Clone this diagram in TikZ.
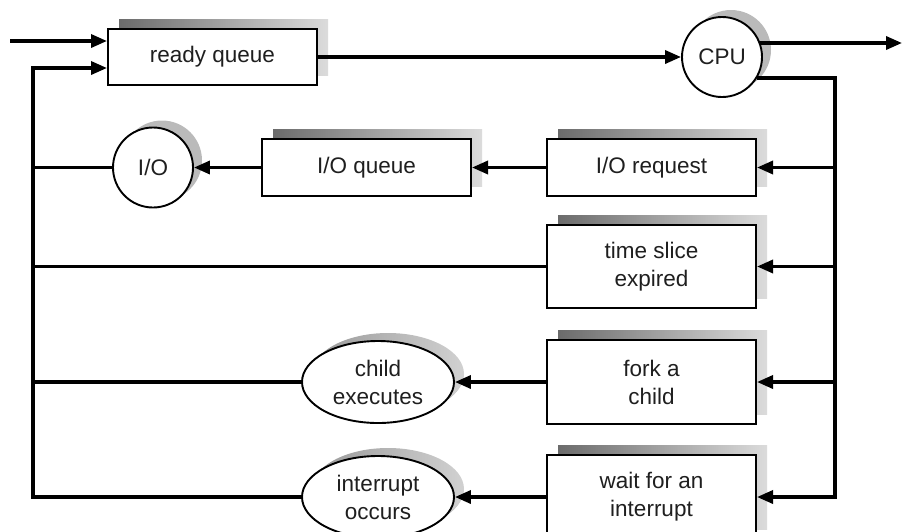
\documentclass[tikz,border=0pt]{standalone}
\usepackage{fontspec}
\setmainfont{Liberation Sans}
\usetikzlibrary{arrows.meta,shadows,shapes.geometric}
\tikzset{
  qbox/.style={draw=black, line width=2pt, fill=white, rectangle,
    minimum width=209pt, inner sep=0pt, align=center,
    font=\fontsize{22.5}{28}\selectfont, text=black!88,
    general shadow={left color=black!58, right color=black!14, draw=none,
      shadow xshift=11pt, shadow yshift=10pt}},
  rnode/.style={draw=black, line width=1.9pt, fill=white, inner sep=0pt, align=center,
    font=\fontsize{22.5}{28}\selectfont, text=black!88,
    general shadow={fill=black!27, draw=none, shadow xshift=9pt, shadow yshift=7pt}},
  cnode/.style={rnode, circle, minimum size=80pt},
  enode/.style={rnode, ellipse, minimum width=152pt, minimum height=82pt,
    general shadow={left color=black!40, right color=black!18, draw=none,
      shadow xshift=10pt, shadow yshift=8pt}},
  link/.style={line width=3.4pt, line join=miter},
  arr/.style={link, -{Triangle[length=16pt,width=13pt]}},
}
\begin{document}
\begin{tikzpicture}[x=1pt,y=-1pt]
\useasboundingbox (0,0) rectangle (904,531);
\clip (0,0) rectangle (904,531);
% nodes
\node[qbox, minimum height=56pt] (rq) at (212.5,57) {ready queue};
\node[cnode] (cpu) at (722,57) {CPU};
\node[qbox, minimum height=57pt] (ioreq) at (651.5,167.5) {I/O request};
\node[qbox, minimum height=57pt] (ioq) at (366.5,167.5) {I/O queue};
\node[cnode] (io) at (153,167.5) {I/O};
\node[qbox, minimum height=83pt] (ts) at (651.5,266.5) {time slice\\expired};
\node[qbox, minimum height=84pt] (fork) at (651.5,382) {fork a\\child};
\node[enode] (child) at (378,382) {child\\executes};
\node[qbox, minimum height=84pt] (wait) at (651.5,497) {wait for an\\interrupt};
\node[enode] (intr) at (378,497) {interrupt\\occurs};
% helper coordinates
\coordinate (in1) at (10,41);
\coordinate (lt) at (33,68);
\coordinate (lb) at (33,497);
\coordinate (rb) at (835,497);
\coordinate (cpuout) at (902,43);
% connectors
\draw[arr] (in1) -- (in1 -| rq.west);
\draw[arr] (rq.east) -- (cpu.west);
\draw[arr] (cpu.20.5) -- (cpu.20.5 -| cpuout);
\draw[arr] (cpu.-31.7) -- (cpu.-31.7 -| rb) -- (rb) -- (wait.east);
\draw[arr] (ioreq.east -| rb) -- (ioreq.east);
\draw[arr] (ts.east -| rb) -- (ts.east);
\draw[arr] (fork.east -| rb) -- (fork.east);
\draw[arr] (ioreq.west) -- (ioq.east);
\draw[arr] (ioq.west) -- (io.east);
\draw[arr] (fork.west) -- (child.east);
\draw[arr] (wait.west) -- (intr.east);
\draw[arr] (intr.west) -- (lb) -- (lt) -- (lt -| rq.west);
\draw[link] (io.west) -- (io.west -| lb);
\draw[link] (ts.west) -- (ts.west -| lb);
\draw[link] (child.west) -- (child.west -| lb);
\end{tikzpicture}
\end{document}
